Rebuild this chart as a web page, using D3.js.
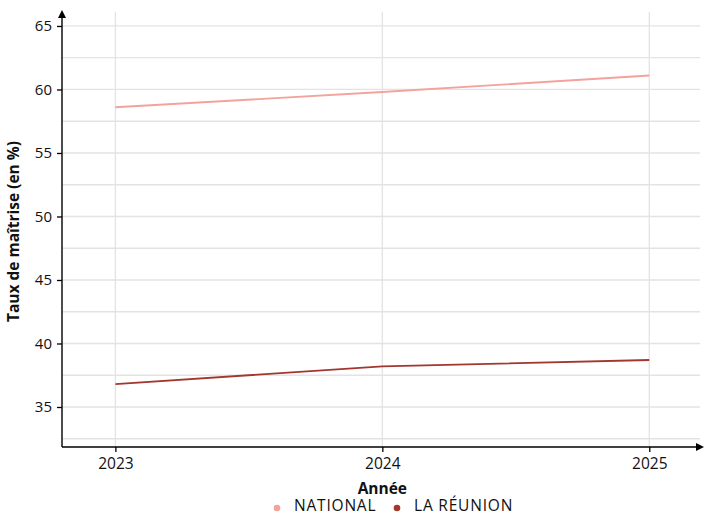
<!DOCTYPE html>
<html><head><meta charset="utf-8">
<script src="https://cdn.jsdelivr.net/npm/d3@7"></script>
<style>body{margin:0;background:#fff}svg{display:block;font-family:"Open Sans",Lato,sans-serif}</style>
</head><body><svg id="c" width="705" height="515"></svg>
<script>
const years = [2023, 2024, 2025];
const national = [58.6, 59.8, 61.1];
const reunion = [36.8, 38.2, 38.7];
const seriesNames = ["NATIONAL", "LA RÉUNION"];
const seriesColors = ["#f2a39c", "#a3372f"];
const yTicks = [35, 40, 45, 50, 55, 60, 65];
const yMinor = [32.5, 37.5, 42.5, 47.5, 52.5, 57.5, 62.5];

const FONT = '"Open Sans", Lato, sans-serif';
const svg = d3.select("#c");
const L = 62, R = 700, T = 12, B = 447;
const x = d3.scaleLinear().domain([2022.8, 2025.19]).range([L, R]);
const y = d3.scaleLinear().domain([31.85, 66.1]).range([B, T]);

const grid = svg.append("g").attr("stroke", "#e3e3e3").attr("stroke-width", 1.3);
yMinor.concat(yTicks).forEach(v => grid.append("line").attr("x1", L).attr("x2", R).attr("y1", y(v)).attr("y2", y(v)));
years.forEach(v => grid.append("line").attr("x1", x(v)).attr("x2", x(v)).attr("y1", T).attr("y2", B));

const series = [national, reunion];
const line = d3.line().x((d, i) => x(years[i])).y(d => y(d));
series.forEach((s, k) => svg.append("path").datum(s).attr("d", line)
  .attr("fill", "none").attr("stroke", seriesColors[k]).attr("stroke-width", 1.8));

// axes
const yAxis = svg.append("g").attr("transform", `translate(${L},0)`)
  .call(d3.axisLeft(y).tickValues(yTicks).tickSize(5).tickPadding(5));
yAxis.attr("font-size", null).attr("font-family", FONT);
yAxis.select(".domain").remove();
yAxis.selectAll("text").style("font-size", "15px").attr("fill", "#111");
yAxis.selectAll("line").attr("stroke", "#000").attr("stroke-width", 1.3);
const xAxis = svg.append("g").attr("transform", `translate(0,${B})`)
  .call(d3.axisBottom(x).tickValues(years).tickFormat(d3.format("d")).tickSize(5).tickPadding(6));
xAxis.attr("font-size", null).attr("font-family", FONT);
xAxis.select(".domain").remove();
xAxis.selectAll("text").style("font-size", "15.5px").attr("fill", "#111");
xAxis.selectAll("line").attr("stroke", "#000").attr("stroke-width", 1.3);

// axis lines with arrows
svg.append("line").attr("x1", L).attr("x2", L).attr("y1", B).attr("y2", T + 2).attr("stroke", "#000").attr("stroke-width", 1.4);
svg.append("path").attr("d", `M${L-4},${T+6}L${L},${T-2}L${L+4},${T+6}Z`).attr("fill", "#000");
svg.append("line").attr("x1", L).attr("x2", 700).attr("y1", B).attr("y2", B).attr("stroke", "#000").attr("stroke-width", 1.4);
svg.append("path").attr("d", `M${696},${B-4}L${704},${B}L${696},${B+4}Z`).attr("fill", "#000");

// titles
svg.append("text").attr("x", x(2024)).attr("y", 494).attr("text-anchor", "middle")
  .style("font-size", "15.5px").attr("font-weight", "bold").attr("fill", "#111").text("Année");
svg.append("text").attr("transform", `translate(19,${(T+B)/2 + 2}) rotate(-90)`).attr("text-anchor", "middle")
  .style("font-size", "15.5px").attr("font-weight", "bold").attr("fill", "#111").text("Taux de maîtrise (en %)");

// legend
const legX = [277, 397];
seriesNames.forEach((n, k) => {
  svg.append("circle").attr("cx", legX[k]).attr("cy", 508).attr("r", 3.3).attr("fill", seriesColors[k]);
  svg.append("text").attr("x", legX[k] + 17).attr("y", 511).style("font-size", "15.5px")
    .attr("letter-spacing", 0.8).attr("fill", "#111").text(n);
});
</script></body></html>
